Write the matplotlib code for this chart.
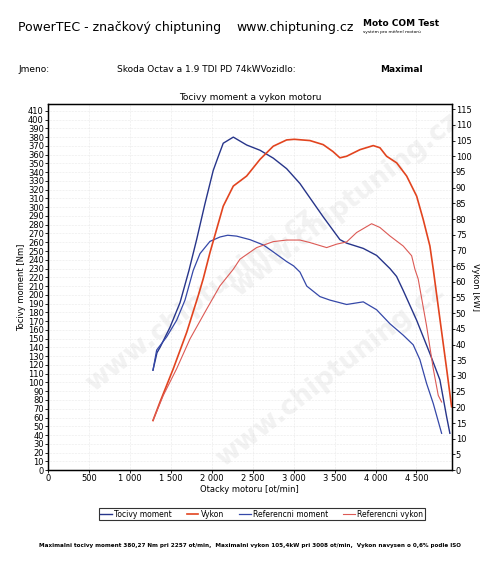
import numpy as np
import matplotlib
matplotlib.use("Agg")
import matplotlib.pyplot as plt
from matplotlib.ticker import FuncFormatter, MultipleLocator

# tuned torque [Nm]
torque_rpm = [1282, 1331, 1368, 1490, 1612, 1722, 1815, 1917, 2018, 2080, 2140, 2263,
              2426, 2589, 2751, 2914, 3077, 3159, 3361, 3565, 3647, 3850, 4013, 4176,
              4257, 4338, 4502, 4664, 4786, 4868, 4908]
torque_nm = [114, 134, 140, 163, 191, 228, 263, 304, 342, 358, 373, 380,
             371, 365, 356, 344, 327, 316, 289, 263, 259, 253, 245, 230,
             221, 205, 171, 133, 103, 61, 42]

# reference torque [Nm]
ref_torque_rpm = [1282, 1327, 1449, 1571, 1673, 1774, 1856, 1978, 2100, 2194, 2304, 2466,
                  2629, 2751, 2914, 3000, 3077, 3160, 3321, 3443, 3647, 3850, 4013, 4176,
                  4338, 4460, 4542, 4623, 4705, 4807]
ref_torque_nm = [114, 137, 152, 171, 194, 228, 247, 261, 266, 268, 267, 263,
                 257, 249, 238, 233, 226, 210, 198, 194, 189, 192, 183, 167,
                 154, 143, 126, 99, 76, 42]

# tuned power [kW]
power_rpm = [1282, 1368, 1530, 1694, 1835, 1896, 1978, 2059, 2140, 2263, 2426, 2589, 2751,
             2914, 3008, 3199, 3361, 3480, 3565, 3647, 3810, 3972, 4054, 4135, 4258,
             4380, 4502, 4582, 4664, 4705, 4786, 4868, 4929]
power_kw = [15.8, 21.7, 32.3, 43.9, 55.6, 61.0, 69.3, 76.7, 84.1, 90.5, 93.7, 99.0, 103.2,
            105.2, 105.4, 105.0, 103.7, 101.5, 99.5, 100.0, 102.1, 103.4, 102.7, 100.0, 97.9,
            93.7, 87.3, 79.9, 71.4, 64.0, 48.2, 32.3, 20.2]

# reference power [kW]
ref_power_rpm = [1282, 1408, 1571, 1734, 1938, 2100, 2263, 2344, 2548, 2751, 2914, 3077,
                 3199, 3403, 3526, 3647, 3769, 3952, 4054, 4176, 4338, 4441, 4481, 4521,
                 4623, 4705, 4766, 4807]
ref_power_kw = [15.8, 23.8, 32.3, 41.8, 51.3, 58.7, 64.0, 67.2, 70.9, 72.8, 73.3, 73.3,
                72.5, 70.9, 72.0, 72.7, 75.7, 78.5, 77.3, 74.6, 71.4, 68.3, 64.0, 60.9,
                46.0, 32.3, 23.8, 21.7]

series_names = ["Tocivy moment", "Vykon", "Referencni moment", "Referencni vykon"]

fig = plt.figure(figsize=(4.8, 5.63), dpi=100)

# watermark (kept inside the plot area, drawn under everything)
for (wx, wy) in [(200, 300), (345, 205), (330, 375)]:
    fig.text(wx / 480, 1 - wy / 563, "www.chiptuning.cz", fontsize=19, fontweight="bold",
             color="#f2f2f2", rotation=38, ha="center", va="center", zorder=-5)

ax = fig.add_axes([0.1, 0.165, 0.841, 0.65])
ax.set_facecolor("none")
ax.plot(torque_rpm, torque_nm, color="#27358a", lw=1.0, label=series_names[0])
ax.plot(ref_torque_rpm, ref_torque_nm, color="#3548a8", lw=0.9, label=series_names[2])
ax.set_xlim(0, 4930)
ax.set_ylim(0, 417.6)
ax.yaxis.set_major_locator(MultipleLocator(10))
ax.xaxis.set_major_locator(MultipleLocator(500))
ax.xaxis.set_major_formatter(FuncFormatter(lambda v, p: f"{int(v):,}".replace(",", " ")))
ax.tick_params(labelsize=6, length=2, width=0.6, pad=1)
ax.grid(True, color="#d8d8d8", lw=0.4, ls=":")
for s in ax.spines.values():
    s.set_linewidth(1.0)
ax.set_xlabel("Otacky motoru [ot/min]", fontsize=6, labelpad=1)
ax.set_ylabel("Tocivy moment [Nm]", fontsize=6, labelpad=1)
ax.set_title("Tocivy moment a vykon motoru", fontsize=6.5, pad=3)

ax2 = ax.twinx()
ax2.set_facecolor("none")
ax2.plot(power_rpm, power_kw, color="#e2441f", lw=1.2, label=series_names[1])
ax2.plot(ref_power_rpm, ref_power_kw, color="#dc5a55", lw=0.8, label=series_names[3])
ax2.set_ylim(0, 116.6)
ax2.yaxis.set_major_locator(MultipleLocator(5))
ax2.tick_params(labelsize=6, length=2, width=0.6, pad=1)
ax2.set_ylabel("Vykon [kW]", fontsize=6, rotation=-90, labelpad=6)

handles = [ax.lines[0], ax2.lines[0], ax.lines[1], ax2.lines[1]]
fig.legend(handles, series_names, loc="center", bbox_to_anchor=(0.545, 0.087), ncol=4,
           fontsize=5.5, frameon=True, fancybox=False, edgecolor="black",
           handlelength=1.5, handletextpad=0.3, columnspacing=2.0, borderpad=0.2)
fig.legends[0].get_frame().set_linewidth(0.8)

# header texts
fig.text(18 / 480, 1 - 27 / 563, "PowerTEC - značkový chiptuning", fontsize=9, va="center")
fig.text(236 / 480, 1 - 27 / 563, "www.chiptuning.cz", fontsize=9, va="center")
fig.text(363 / 480, 1 - 23 / 563, "Moto COM Test", fontsize=6.5, fontweight="bold", va="center")
fig.text(363 / 480, 1 - 32 / 563, "systém pro měření motorů", fontsize=3.2, va="center")
fig.text(18 / 480, 1 - 70 / 563, "Jmeno:", fontsize=6.5, va="center")
fig.text(117 / 480, 1 - 70 / 563, "Skoda Octav a 1.9 TDI PD 74kWVozidlo:", fontsize=6.5, va="center")
fig.text(380 / 480, 1 - 70 / 563, "Maximal", fontsize=6.5, fontweight="bold", va="center")
fig.text(0.521, 1 - 546 / 563,
         "Maximalni tocivy moment 380,27 Nm pri 2257 ot/min,  Maximalni vykon 105,4kW pri 3008 ot/min,  Vykon navysen o 0,6% podle ISO",
         fontsize=4.05, fontweight="bold", ha="center", va="center")

fig.savefig("out.png", dpi=100)
